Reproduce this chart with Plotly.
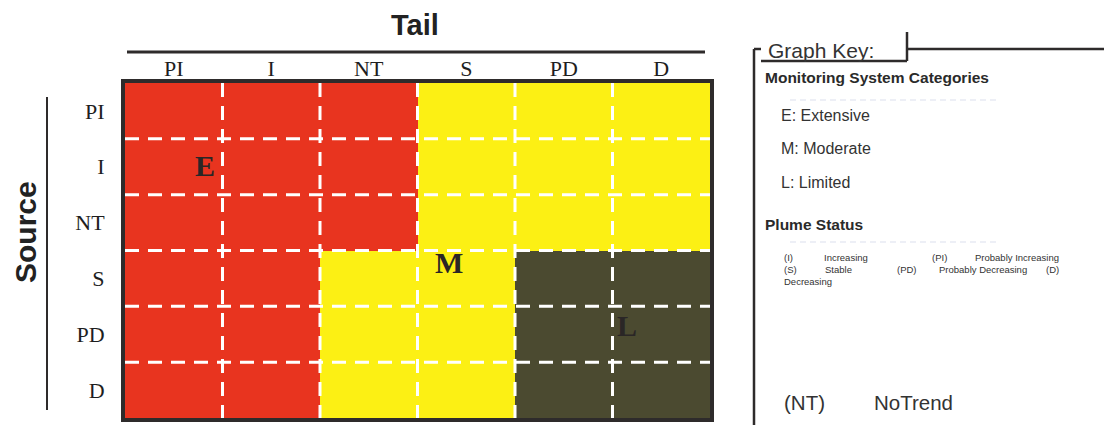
import plotly.graph_objects as go

# ---------------- data ----------------
tail_labels = ["PI", "I", "NT", "S", "PD", "D"]      # columns (Tail)
source_labels = ["PI", "I", "NT", "S", "PD", "D"]    # rows (Source)
# 0 = E (Extensive), 1 = M (Moderate), 2 = L (Limited)
category_grid = [
    [0, 0, 0, 1, 1, 1],
    [0, 0, 0, 1, 1, 1],
    [0, 0, 0, 1, 1, 1],
    [0, 0, 1, 1, 2, 2],
    [0, 0, 1, 1, 2, 2],
    [0, 0, 1, 1, 2, 2],
]
category_letters = ["E", "M", "L"]
category_names = ["Extensive", "Moderate", "Limited"]
plume_status = [("(I)", "Increasing"), ("(PI)", "Probably Increasing"),
                ("(S)", "Stable"), ("(PD)", "Probably Decreasing"),
                ("(D)", "Decreasing"), ("(NT)", "NoTrend")]

RED = "#e8341f"
YELLOW = "#fcf014"
OLIVE = "#4b4a30"

W, H = 1112, 425
OFF = 8  # page body margin
# plot area in screenshot pixels
L, R, T, B = 125, 710, 83, 418


def px(x):
    return (x - L) / (R - L)


def py(y):
    return (B - y) / (B - T)


nx, ny = len(tail_labels), len(source_labels)

fig = go.Figure()
fig.add_trace(go.Heatmap(
    z=category_grid,
    x=list(range(nx)),
    y=list(range(ny)),
    colorscale=[[0, RED], [0.5, YELLOW], [1, OLIVE]],
    zmin=0, zmax=2,
    showscale=False,
    hoverinfo="skip",
))

shapes = []
dash = "14px,9px"
for i in range(1, nx):
    shapes.append(dict(type="line", xref="x", yref="y", x0=i - 0.5, x1=i - 0.5,
                       y0=-0.5, y1=ny - 0.5, layer="above",
                       line=dict(color="white", width=3, dash=dash)))
for j in range(1, ny):
    shapes.append(dict(type="line", xref="x", yref="y", x0=-0.5, x1=nx - 0.5,
                       y0=j - 0.5, y1=j - 0.5, layer="above",
                       line=dict(color="white", width=3, dash=dash)))

line_col = "#2e2b2b"
# Tail line and Source line
shapes.append(dict(type="line", xref="paper", yref="paper", x0=px(127), x1=px(705),
                   y0=py(52), y1=py(52), line=dict(color=line_col, width=3)))
shapes.append(dict(type="line", xref="paper", yref="paper", x0=px(47), x1=px(47),
                   y0=py(97), y1=py(410), line=dict(color=line_col, width=2)))
# Graph key frame
frame = [
    ((754, 49), (754, 430)),
    ((754, 49), (761, 49)),
    ((761, 61), (907, 61)),
    ((907, 32), (907, 61)),
    ((907, 49), (1115, 49)),
]
for (x0, y0), (x1, y1) in frame:
    shapes.append(dict(type="line", xref="paper", yref="paper", x0=px(x0), x1=px(x1),
                       y0=py(y0), y1=py(y1), line=dict(color=line_col, width=2.5)))
# faint separator lines
for yy in (100, 242):
    shapes.append(dict(type="line", xref="paper", yref="paper", x0=px(790), x1=px(1000),
                       y0=py(yy), y1=py(yy),
                       line=dict(color="rgba(150,160,200,0.35)", width=1, dash="6px,4px")))

ann = []
# letters on the grid
letter_pos = [(0.32, 0.97), (2.82, 2.71), (4.65, 3.84)]
for letter, (ax, ay) in zip(category_letters, letter_pos):
    ann.append(dict(x=ax, y=ay, xref="x", yref="y", text=letter, showarrow=False,
                    xanchor="center", yanchor="middle",
                    font=dict(family="Liberation Serif", size=30, color="#2a2626",
                              weight="bold")))

# titles
ann.append(dict(x=px(415), y=py(25), xref="paper", yref="paper", text="Tail",
                showarrow=False, xanchor="center", yanchor="middle",
                font=dict(family="Liberation Sans", size=29, color="#222", weight="bold")))
ann.append(dict(x=px(25), y=py(232), xref="paper", yref="paper", text="Source",
                textangle=-90, showarrow=False, xanchor="center", yanchor="middle",
                font=dict(family="Liberation Sans", size=30, color="#222", weight="bold")))


def txt(x, y, s, size, bold=False, color="#333"):
    ann.append(dict(x=px(x), y=py(y), xref="paper", yref="paper", text=s,
                    xanchor="left", yanchor="middle", showarrow=False,
                    font=dict(family="Liberation Sans", size=size, color=color,
                              weight="bold" if bold else "normal")))


txt(766, 51, "Graph Key:", 21)
txt(763, 78, "Monitoring System Categories", 15.5, bold=True, color="#2a2a2a")
for k, (letter, name) in enumerate(zip(category_letters, category_names)):
    txt(779, 115 + k * 33.5, f"{letter}: {name}", 16)
txt(763, 224, "Plume Status", 15.5, bold=True, color="#2a2a2a")

ps = dict(plume_status)
small = 9.5
txt(782, 257, "(I)", small)
txt(822, 257, ps["(I)"], small)
txt(930, 257, "(PI)", small)
txt(973, 257, ps["(PI)"], small)
txt(782, 269, "(S)", small)
txt(823, 269, ps["(S)"], small)
txt(895, 269, "(PD)", small)
txt(937, 269, ps["(PD)"], small)
txt(1044, 269, "(D)", small)
txt(782, 281, ps["(D)"], small)
txt(782, 402, "(NT)", 20.5)
txt(872, 402, ps["(NT)"], 20.5)

fig.update_layout(
    width=W, height=H,
    margin=dict(l=L - OFF, r=W - (R - OFF), t=T - OFF, b=H - (B - OFF)),
    paper_bgcolor="white", plot_bgcolor="white",
    shapes=shapes, annotations=ann,
    showlegend=False,
    xaxis=dict(range=[-0.5, nx - 0.5], tickvals=list(range(nx)), ticktext=tail_labels,
               side="top", showgrid=False, zeroline=False, showline=True, mirror=True,
               linecolor=line_col, linewidth=4, ticks="", ticklabelstandoff=-6,
               tickfont=dict(family="Liberation Serif", size=22, color="#1e1e1e"),
               fixedrange=True),
    yaxis=dict(range=[ny - 0.5, -0.5], tickvals=list(range(ny)), ticktext=source_labels,
               showgrid=False, zeroline=False, showline=True, mirror=True,
               linecolor=line_col, linewidth=4, ticks="", ticklabelstandoff=12,
               tickfont=dict(family="Liberation Serif", size=22, color="#1e1e1e"),
               fixedrange=True),
)

fig.write_html("out.html")
